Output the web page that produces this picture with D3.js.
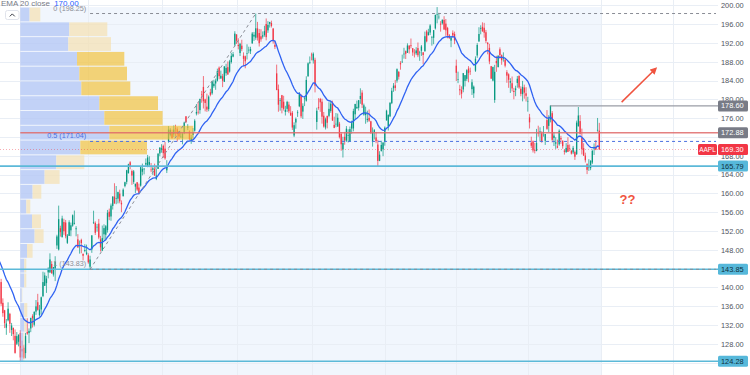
<!DOCTYPE html>
<html>
<head>
<meta charset="utf-8">
<script src="https://cdn.jsdelivr.net/npm/d3@7"></script>
<style>
html, body { margin: 0; padding: 0; background: #fff; overflow: hidden; }
svg { display: block; font-family: "Liberation Sans", Arial, sans-serif; }
</style>
</head>
<body>
<svg id="chart" width="750" height="375"></svg>
<script>
// AAPL daily candles, [open, high, low, close], one array per month
var dec22 = [[145.35,146.66,141.16,143.21],[141.11,141.80,136.03,136.50],[136.69,137.65,133.73,134.51],[135.11,135.20,131.32,132.37],[131.39,133.25,129.89,132.30],[132.98,136.81,132.75,135.45],[134.35,134.56,130.30,132.23],[130.92,132.42,129.64,131.86],[131.38,131.41,128.72,130.03],[129.67,131.03,125.87,126.04],[127.99,130.48,127.73,129.61],[128.41,129.95,127.43,129.93]];
var jan23 = [[130.28,130.90,124.17,125.07],[126.89,128.66,125.08,126.36],[127.13,127.77,124.76,125.02],[126.01,130.29,124.89,129.62],[130.47,133.41,129.89,130.15],[130.26,131.26,128.12,130.73],[131.25,133.51,130.46,133.49],[133.88,134.26,131.44,133.41],[132.03,134.92,131.66,134.76],[134.83,137.29,134.13,135.94],[136.82,138.61,135.03,135.21],[134.08,136.25,133.77,135.27],[135.28,138.02,134.22,137.87],[138.12,143.32,137.90,141.11],[140.31,143.16,140.30,142.53],[140.89,142.43,138.81,141.86],[143.17,144.25,141.90,143.96],[143.16,147.23,143.08,145.93],[144.96,145.55,142.85,143.00],[142.70,144.34,142.28,144.29]];
var feb23 = [[143.97,146.61,141.32,145.43],[148.90,151.18,148.17,150.82],[148.03,157.38,147.83,154.50],[152.57,153.10,150.78,151.73],[150.64,155.23,150.64,154.65],[153.88,154.58,151.17,151.92],[153.78,154.33,150.42,150.87],[149.46,151.34,149.22,151.01],[150.95,154.26,150.92,153.85],[152.12,153.77,150.86,153.20],[153.11,155.50,152.88,155.33],[153.51,156.33,153.35,153.71],[152.35,153.00,150.85,152.55],[150.20,151.30,148.41,148.48],[148.87,149.95,147.16,148.91],[150.09,150.34,147.24,149.40],[147.11,147.19,145.72,146.71],[147.71,149.17,147.45,147.92],[147.05,149.08,146.83,147.41]];
var mar23 = [[146.83,147.23,145.01,145.31],[144.38,146.71,143.90,145.91],[148.04,151.11,147.33,151.03],[153.79,156.30,153.46,153.83],[153.70,154.03,151.13,151.60],[152.81,153.47,151.83,152.87],[153.56,154.54,150.23,150.59],[150.21,150.94,147.61,148.50],[147.81,153.14,147.70,150.47],[151.28,153.40,150.10,152.59],[151.19,153.25,149.92,152.99],[152.16,156.46,151.64,155.85],[156.08,156.74,154.28,155.00],[155.07,157.82,154.15,157.40],[157.32,159.40,156.54,159.28],[159.30,162.14,157.81,157.83],[158.83,161.55,157.68,158.93],[158.86,160.34,157.85,160.25],[159.94,160.77,157.87,158.28],[157.97,158.49,155.98,157.65],[159.37,161.05,159.35,160.77],[161.53,162.47,161.27,162.36],[162.44,165.00,161.91,164.90]];
var apr23 = [[164.27,166.29,164.22,166.17],[166.60,166.84,165.11,165.63],[164.74,165.05,161.80,163.76],[162.43,164.96,162.00,164.66],[161.42,162.03,160.08,162.03],[162.35,162.36,160.51,160.80],[161.22,162.06,159.78,160.10],[161.63,165.80,161.42,165.56],[164.59,166.32,163.82,165.21],[165.09,165.39,164.03,165.23],[166.10,167.41,165.65,166.47],[165.80,168.16,165.54,167.63],[166.09,167.87,165.56,166.65],[165.05,166.45,164.49,165.02],[165.00,165.60,163.89,165.33],[165.19,166.31,163.73,163.77],[163.06,165.28,162.80,163.76],[165.19,168.56,165.19,168.41],[168.49,169.85,167.88,169.68]];
var may23 = [[169.28,170.45,168.64,169.59],[170.09,170.35,167.54,168.54],[169.50,170.92,167.16,167.45],[164.89,167.04,164.31,165.79],[170.98,174.30,170.76,173.57],[172.48,173.85,172.11,173.50],[173.05,173.54,171.60,171.77],[172.55,174.43,171.96,173.56],[173.85,174.59,172.17,173.75],[173.62,174.06,171.00,172.57],[173.16,173.21,171.47,172.07],[171.99,173.14,171.80,172.07],[171.71,172.93,170.42,172.69],[173.00,175.24,172.58,175.05],[176.39,176.39,174.94,175.16],[173.98,174.71,173.45,174.20],[173.13,173.38,171.28,171.56],[171.09,172.42,170.52,171.84],[172.41,173.90,171.69,172.99],[173.32,175.77,173.11,175.43],[176.96,178.99,176.57,177.30],[177.33,179.35,176.76,177.25]];
var jun23 = [[177.70,180.12,176.93,180.09],[181.03,181.78,179.26,180.95],[182.63,184.95,178.04,179.58],[179.97,180.12,177.43,179.21],[178.44,181.21,177.32,177.82],[177.90,180.84,177.46,180.57],[181.50,182.23,180.63,180.96],[181.27,183.89,180.97,183.79],[182.80,184.15,182.44,183.31],[183.37,184.39,182.02,183.95],[183.96,186.52,183.78,186.01],[186.73,186.99,184.27,184.92],[184.41,186.10,184.41,185.01],[184.90,185.41,182.59,183.96],[183.74,187.05,183.67,187.00],[185.55,187.56,185.01,186.68],[186.83,188.05,185.23,185.27],[185.89,188.39,185.67,188.06],[187.93,189.90,187.60,189.25],[189.08,190.07,188.94,189.59],[191.63,194.48,191.26,193.97]];
var jul23 = [[193.78,193.88,191.76,192.46],[191.57,192.98,190.62,191.33],[189.84,192.02,189.20,191.81],[191.41,192.67,190.24,190.68],[189.26,189.99,187.04,188.61],[189.16,189.30,186.60,188.08],[189.68,191.70,188.47,189.77],[190.50,191.19,189.78,190.54],[190.23,191.18,189.63,190.69],[191.90,194.32,191.81,193.99],[193.35,194.33,192.42,193.73],[193.10,198.23,192.65,195.10],[195.09,196.47,192.50,193.13],[194.10,194.97,191.23,191.94],[193.41,194.91,192.25,192.75],[193.33,194.44,192.92,193.62],[193.67,195.64,193.32,194.50],[196.02,197.20,192.55,193.22],[194.67,196.63,194.14,195.83],[196.06,196.49,195.26,196.45]];
var aug23 = [[196.24,196.73,195.28,195.61],[195.04,195.18,191.85,192.58],[191.57,192.37,190.69,191.17],[185.52,187.38,181.92,181.99],[182.13,183.13,177.35,178.85],[179.69,180.27,177.58,179.80],[180.87,180.93,177.01,178.19],[179.48,180.75,177.60,177.97],[177.32,178.62,176.55,177.79],[177.97,179.69,177.31,179.46],[178.88,179.48,177.05,177.45],[177.13,178.54,176.50,176.57],[177.14,177.51,173.48,174.00],[172.30,175.10,171.96,174.49],[175.07,176.13,173.74,175.84],[177.06,177.68,176.25,177.23],[178.52,181.55,178.33,181.12],[180.67,181.10,176.01,176.38],[177.38,179.15,175.82,178.61],[180.09,180.59,178.55,180.19],[179.70,184.90,179.50,184.12],[184.94,187.85,184.74,187.65],[187.84,189.12,187.48,187.87]];
var sep23 = [[189.49,189.92,188.28,189.46],[188.28,189.98,187.61,189.70],[188.40,188.85,181.47,182.91],[175.18,178.21,173.54,177.56],[178.35,180.24,177.79,178.18],[180.07,180.30,177.34,179.36],[179.49,180.13,174.82,176.30],[176.51,177.30,173.98,174.21],[174.00,176.10,173.58,175.74],[176.48,176.50,173.82,175.01],[176.48,179.38,176.17,177.97],[177.52,179.63,177.13,179.07],[179.26,179.70,175.40,175.49],[174.55,176.30,173.86,173.93],[174.67,177.08,174.05,174.79],[174.20,176.97,174.15,176.08],[174.82,175.20,171.66,171.96],[172.62,173.04,169.05,170.43],[169.34,172.03,167.62,170.69],[172.02,173.07,170.34,171.21]];
var oct23 = [[171.22,174.30,170.93,173.75],[172.26,173.63,170.82,172.40],[171.09,174.21,170.97,173.66],[173.79,175.45,172.68,174.91],[173.80,177.99,173.18,177.49],[176.81,179.05,175.80,178.99],[178.10,179.72,177.95,178.39],[178.20,179.85,177.60,179.80],[180.07,182.34,179.04,180.71],[181.42,181.93,178.14,178.85],[176.75,179.08,176.51,178.72],[176.65,178.42,174.80,177.15],[175.58,177.58,175.11,175.84],[176.04,177.84,175.19,175.46],[175.31,175.42,172.64,172.88],[170.91,174.01,169.93,173.00],[173.05,173.67,171.45,173.44],[171.88,173.06,170.65,171.10],[170.37,171.38,165.67,166.89],[166.91,168.96,166.83,168.22],[169.02,171.17,168.87,170.29],[169.35,170.90,167.90,170.77]];
var nov23 = [[171.00,174.23,170.12,173.97],[175.52,177.78,175.46,177.57],[174.24,176.82,173.35,176.65],[176.38,179.43,176.21,179.23],[179.18,182.44,178.97,181.82],[182.35,183.45,181.59,182.89],[182.96,184.12,181.81,182.41],[183.97,186.57,183.53,186.40],[185.82,186.03,184.21,184.80],[187.70,188.11,186.30,187.44],[187.85,189.50,187.78,188.01],[189.57,190.96,188.65,189.71],[190.25,190.38,188.57,189.69],[189.89,191.91,189.88,191.45],[191.41,191.52,189.74,190.64],[191.49,192.93,190.83,191.31],[190.87,190.90,189.25,189.97],[189.92,190.67,188.90,189.79],[189.78,191.08,189.40,190.40],[190.90,192.09,188.97,189.37],[189.84,190.32,188.19,189.95]];
var dec23 = [[190.33,191.56,189.23,191.24],[189.98,190.05,187.45,189.43],[190.21,194.40,190.18,193.42],[194.45,194.76,192.11,192.32],[193.63,195.00,193.59,194.27],[194.20,195.99,193.67,195.71],[193.11,193.49,191.42,193.18],[193.08,194.72,191.72,194.71],[195.09,198.00,194.85,197.96],[198.02,199.62,196.16,198.11],[197.53,198.40,197.00,197.57],[196.09,196.63,194.39,195.89],[196.16,196.95,195.89,196.94],[196.90,197.68,194.83,194.83],[196.10,197.08,193.50,194.68],[195.18,195.41,192.97,193.60],[193.61,193.89,192.83,193.05],[192.49,193.50,191.09,193.15],[194.14,194.66,193.17,193.58],[193.90,194.40,191.73,192.53]];
var jan24 = [[187.15,188.44,183.89,185.64],[184.22,185.88,183.43,184.25],[182.15,183.09,180.88,181.91],[181.99,182.76,180.17,181.18],[182.09,185.60,181.50,185.56],[183.92,185.15,182.73,185.14],[184.35,186.40,183.92,186.19],[186.54,187.05,183.62,185.59],[186.06,186.74,185.19,185.92],[182.16,184.26,180.93,183.63],[181.27,182.93,180.30,182.68],[186.09,189.14,185.83,188.63],[189.33,191.95,188.82,191.56],[192.30,195.33,192.26,193.89],[195.02,195.75,193.83,195.18],[195.42,196.38,194.34,194.50],[195.22,196.27,193.11,194.17],[194.27,194.76,191.94,192.42],[192.01,192.20,189.58,191.73],[190.94,191.80,187.47,188.04],[187.04,187.10,184.35,184.40]];
var feb24 = [[183.99,186.95,183.82,186.86],[179.86,187.33,179.25,185.85],[188.15,189.25,185.84,187.68],[186.86,189.31,186.77,189.30],[190.64,191.05,188.61,189.41],[189.39,189.54,187.35,188.32],[188.65,189.99,188.00,188.85],[188.42,188.67,186.79,187.15],[185.77,186.21,183.51,185.04],[185.32,185.53,182.44,184.15],[183.55,184.49,181.35,183.86],[183.42,184.85,181.67,182.31],[181.79,182.43,180.00,181.56],[181.94,182.89,180.66,182.32],[183.48,184.96,182.46,184.37],[185.01,185.04,182.23,182.52],[182.24,182.76,180.65,181.16],[181.10,183.92,179.56,182.63],[182.51,183.12,180.13,181.42],[181.27,182.57,179.53,180.75]];
var mar24 = [[179.55,180.53,177.38,179.66],[176.15,176.90,173.79,175.10],[170.76,172.04,169.62,170.12],[171.06,171.24,168.68,169.12],[169.15,170.73,168.49,169.00],[169.00,173.70,168.94,170.73],[172.94,174.38,172.05,172.75],[173.15,174.03,171.01,173.23],[172.77,173.19,170.76,171.13],[172.91,174.31,172.05,173.00],[171.17,172.62,170.29,172.62],[175.57,177.71,173.52,173.72],[174.34,176.61,173.03,176.08],[175.72,178.67,175.09,178.67],[177.05,177.49,170.84,171.37],[171.76,173.05,170.06,172.28],[170.57,171.94,169.45,170.85],[170.00,171.42,169.58,169.71],[170.41,173.60,170.11,173.31],[171.75,172.23,170.51,171.48]];
var apr24 = [[171.19,171.25,169.48,170.03],[169.08,169.34,168.23,168.84],[168.79,170.68,168.58,169.65],[170.29,171.92,168.82,168.82],[169.59,170.39,168.95,169.58],[169.03,169.20,168.24,168.45],[168.70,170.08,168.35,169.67],[168.80,169.09,167.11,167.78],[168.34,175.46,168.16,175.04],[174.26,178.36,174.21,176.55],[175.36,176.63,172.50,172.69],[171.75,173.76,168.27,169.38],[169.61,170.65,168.00,168.00],[168.03,168.64,166.55,167.04],[166.21,166.40,164.08,165.00],[165.52,167.26,164.77,165.84],[165.35,167.05,164.92,166.90],[166.54,169.30,166.21,169.02],[169.53,170.61,168.15,169.89],[169.88,171.34,169.18,169.30],[173.37,176.03,173.10,173.50],[173.33,174.99,169.30,169.30]];

var months = [dec22, jan23, feb23, mar23, apr23, may23, jun23, jul23, aug23, sep23, oct23, nov23, dec23, jan24, feb24, mar24, apr24];
var futureMonthDays = [22, 19, 22];   // May, Jun, Jul 2024 trading days
var firstDayIndex = -12;              // Dec 14 2022, counted from Jan 3 2023

var priceTicks = [200, 196, 192, 188, 184, 180, 176, 172, 168, 164, 160, 156, 152, 148, 144, 140, 136, 132, 128, 124];

var emaLength = 20;
var emaSeed = 145.8;      // EMA value before the first visible bar
var emaLabel = "170.00";

// volume profile rows from the top (199.62) to the bottom (124.17)
var vpHigh = 199.62, vpLow = 124.17;
var vpUp   = [9.3, 49, 48, 56.7, 59, 61, 79, 84, 89, 60, 36, 24.3, 12.3, 6, 11.7, 14.3, 6.7, 4, 4, 1.5, 4, 4, 3, 3];
var vpDown = [10.7, 38, 42.7, 47.3, 47.7, 49, 58.7, 58.3, 84, 66.7, 28, 15, 8.7, 4, 9, 9, 5.6, 2, 2, 0.5, 3, 2, 1, 1];
var valueArea = [168.2, 190.2];

// fib retracement drawn from the March low to the July high
var fibFrom = { day: 40, price: 143.83 };
var fibTo = { day: 135, price: 198.25 };
var fibLevels = [
  { label: "0 (198.25)", price: 198.25, color: "#8a8d96" },
  { label: "0.5 (171.04)", price: 171.04, color: "#4a6fe0" },
  { label: "1 (143.83)", price: 143.83, color: "#8a8d96" }
];

var supportLevels = [165.79, 143.85, 124.28];
var redLevel = 172.88;
var resistLevel = { day: 304, price: 178.60 };
var lastPrice = 169.30;

var arrow = { from: [344.8, 179.4], to: [364, 186.4] };
var question = { day: 348.2, price: 158.7, text: "??" };

// ---------------------------------------------------------------
var W = 750, H = 375, plotRight = 718;
var candles = [].concat.apply([], months);

var x = d3.scaleLinear().domain([0, 332]).range([20.3, 599.3]);
var y = d3.scaleLinear().domain([124, 200]).range([362.5, 5.3]);

var svg = d3.select("#chart");
var defs = svg.append("defs");
defs.append("clipPath").attr("id", "plot").append("rect")
    .attr("x", 0).attr("y", 0).attr("width", plotRight).attr("height", H);
defs.append("marker").attr("id", "head")
    .attr("viewBox", "0 0 10 10").attr("refX", 6).attr("refY", 5)
    .attr("markerWidth", 7).attr("markerHeight", 7)
    .attr("markerUnits", "userSpaceOnUse").attr("orient", "auto")
  .append("path").attr("d", "M0,0 L10,5 L0,10 z").attr("fill", "#f0533f");

svg.append("rect").attr("width", W).attr("height", H).attr("fill", "#fff");

var plot = svg.append("g").attr("clip-path", "url(#plot)");

// month starts -> vertical grid every two months
var monthStarts = [];
var d = firstDayIndex;
months.forEach(function (m) { monthStarts.push(d); d += m.length; });
futureMonthDays.forEach(function (n) { monthStarts.push(d); d += n; });
var gridDays = monthStarts.slice(1).filter(function (v, i) { return i % 2 === 0; });

// shaded range behind the profile
plot.append("rect")
    .attr("x", x(0)).attr("y", y(vpHigh))
    .attr("width", x(333) - x(0)).attr("height", H - y(vpHigh))
    .attr("fill", "#f1f6fd");

plot.append("g").selectAll("line").data(priceTicks).join("line")
    .attr("x1", 0).attr("x2", plotRight)
    .attr("y1", function (v) { return Math.round(y(v)) + 0.5; })
    .attr("y2", function (v) { return Math.round(y(v)) + 0.5; })
    .attr("stroke", "#e9eef5").attr("stroke-width", 1);
plot.append("g").selectAll("line").data(gridDays).join("line")
    .attr("x1", function (v) { return Math.round(x(v)) + 0.5; })
    .attr("x2", function (v) { return Math.round(x(v)) + 0.5; })
    .attr("y1", 0).attr("y2", H)
    .attr("stroke", "#e9eef5").attr("stroke-width", 1);

// candles
var up = "#089981", down = "#f23645";
var cg = plot.append("g");
cg.selectAll("line").data(candles).join("line")
    .attr("x1", function (c, i) { return x(firstDayIndex + i); })
    .attr("x2", function (c, i) { return x(firstDayIndex + i); })
    .attr("y1", function (c) { return y(c[1]); })
    .attr("y2", function (c) { return y(c[2]); })
    .attr("stroke", function (c) { return c[3] >= c[0] ? up : down; })
    .attr("stroke-width", 0.7);
cg.selectAll("rect").data(candles).join("rect")
    .attr("x", function (c, i) { return x(firstDayIndex + i) - 0.65; })
    .attr("width", 1.3)
    .attr("y", function (c) { return y(Math.max(c[0], c[3])); })
    .attr("height", function (c) { return Math.max(0.6, Math.abs(y(c[0]) - y(c[3]))); })
    .attr("fill", function (c) { return c[3] >= c[0] ? up : down; });

// volume profile
var rowH = (y(vpLow) - y(vpHigh)) / vpUp.length;
var rowPrice = (vpHigh - vpLow) / vpUp.length;
var vol = d3.scaleLinear()
    .domain([0, d3.max(vpUp, function (v, i) { return v + vpDown[i]; })])
    .range([0, 173]);
var vpg = plot.append("g").attr("opacity", 0.65);
vpUp.forEach(function (v, i) {
  var mid = vpHigh - (i + 0.5) * rowPrice;
  var inVA = mid >= valueArea[0] && mid <= valueArea[1];
  var top = y(vpHigh) + i * rowH;
  vpg.append("rect").attr("x", x(0)).attr("y", top + 0.5)
     .attr("width", vol(v)).attr("height", rowH - 1).attr("fill", "#aabff5");
  vpg.append("rect").attr("x", x(0) + vol(v)).attr("y", top + 0.5)
     .attr("width", vol(vpDown[i])).attr("height", rowH - 1)
     .attr("fill", inVA ? "#f3bf30" : "#f6e0ac");
});

// EMA 20
var ema = [];
var prev = emaSeed;
candles.forEach(function (c) { prev = prev + (c[3] - prev) * 2 / (emaLength + 1); ema.push(prev); });
plot.append("path").datum(ema)
    .attr("d", d3.line().x(function (v, i) { return x(firstDayIndex + i); }).y(function (v) { return y(v); }))
    .attr("fill", "none").attr("stroke", "#2f62f2").attr("stroke-width", 1.3);

// horizontal levels
supportLevels.forEach(function (p) {
  plot.append("line").attr("x1", 0).attr("x2", plotRight)
      .attr("y1", y(p)).attr("y2", y(p))
      .attr("stroke", "#5cb9d8").attr("stroke-width", 1.6);
});
plot.append("line").attr("x1", x(0)).attr("x2", plotRight)
    .attr("y1", y(redLevel)).attr("y2", y(redLevel))
    .attr("stroke", "#e06b6b").attr("stroke-width", 1.4).attr("opacity", 0.85);
plot.append("line").attr("x1", x(resistLevel.day)).attr("x2", plotRight)
    .attr("y1", y(resistLevel.price)).attr("y2", y(resistLevel.price))
    .attr("stroke", "#9a9da6").attr("stroke-width", 1.3);
plot.append("line").attr("x1", 0).attr("x2", 698)
    .attr("y1", y(lastPrice)).attr("y2", y(lastPrice))
    .attr("stroke", "#f23645").attr("stroke-width", 0.8)
    .attr("stroke-dasharray", "1,2").attr("opacity", 0.55);

// fib retracement
plot.append("line")
    .attr("x1", x(fibFrom.day)).attr("y1", y(fibFrom.price))
    .attr("x2", x(fibTo.day)).attr("y2", y(fibTo.price))
    .attr("stroke", "#8a8d96").attr("stroke-width", 1).attr("stroke-dasharray", "3,3");
fibLevels.forEach(function (f) {
  plot.append("line").attr("x1", x(fibFrom.day)).attr("x2", 716)
      .attr("y1", y(f.price)).attr("y2", y(f.price))
      .attr("stroke", f.color).attr("stroke-width", 1).attr("stroke-dasharray", "3,3");
  plot.append("text").attr("x", x(fibFrom.day) - 4).attr("y", y(f.price) - 3)
      .attr("text-anchor", "end").attr("font-size", 7.2).attr("fill", f.color)
      .text(f.label);
});

// annotations
svg.append("line")
    .attr("x1", x(arrow.from[0])).attr("y1", y(arrow.from[1]))
    .attr("x2", x(arrow.to[0])).attr("y2", y(arrow.to[1]))
    .attr("stroke", "#f0533f").attr("stroke-width", 1.5).attr("marker-end", "url(#head)");
svg.append("text").attr("x", x(question.day)).attr("y", y(question.price))
    .attr("text-anchor", "middle").attr("dominant-baseline", "central")
    .attr("font-size", 13).attr("font-weight", "bold").attr("fill", "#f0533f")
    .text(question.text);

// price labels on the axis
var priceLabels = [
  { price: resistLevel.price, bg: "#787b86", fg: "#fff" },
  { price: redLevel, bg: "#787b86", fg: "#fff" },
  { price: lastPrice, bg: "#f23645", fg: "#fff" },
  { price: supportLevels[0], bg: "#56b8da", fg: "#10303c" },
  { price: supportLevels[1], bg: "#56b8da", fg: "#10303c" },
  { price: supportLevels[2], bg: "#56b8da", fg: "#10303c" }
];

// ticks hidden behind a label box are dropped, as the platform does
var shownTicks = priceTicks.filter(function (t) {
  return priceLabels.every(function (l) { return Math.abs(y(t) - y(l.price)) > 5.5; });
});
var axis = svg.append("g").attr("transform", "translate(" + plotRight + ",0)")
    .call(d3.axisRight(y).tickValues(shownTicks).tickSize(0).tickPadding(3)
      .tickFormat(d3.format(".2f")));
axis.select(".domain").remove();
axis.selectAll("text").attr("font-size", 7.4).attr("fill", "#50535e")
    .attr("font-family", "'Liberation Sans', Arial, sans-serif");

priceLabels.forEach(function (l) {
  var g = svg.append("g").attr("transform", "translate(" + plotRight + "," + y(l.price) + ")");
  g.append("rect").attr("x", 0).attr("y", -5.5).attr("width", 30).attr("height", 11)
      .attr("rx", 1.5).attr("fill", l.bg);
  g.append("text").attr("x", 3).attr("y", 0).attr("dominant-baseline", "central")
      .attr("font-size", 7.4).attr("fill", l.fg).text(d3.format(".2f")(l.price));
});
var tag = svg.append("g").attr("transform", "translate(698," + y(lastPrice) + ")");
tag.append("rect").attr("x", 0).attr("y", -5.5).attr("width", 19).attr("height", 11)
    .attr("rx", 1.5).attr("fill", "#f23645");
tag.append("text").attr("x", 9.5).attr("y", 0).attr("text-anchor", "middle")
    .attr("dominant-baseline", "central").attr("font-size", 6.5).attr("fill", "#fff").text("AAPL");

// legend
var legend = svg.append("text").attr("x", 1).attr("y", 5.8).attr("font-size", 8);
legend.append("tspan").attr("fill", "#787b86").text("EMA 20 close ");
legend.append("tspan").attr("fill", "#2962ff").attr("dx", 2).text(emaLabel);
svg.append("rect").attr("x", 5.5).attr("y", 10.5).attr("width", 13.5).attr("height", 9)
    .attr("rx", 2).attr("fill", "#fff").attr("stroke", "#e0e3eb");
svg.append("path").attr("d", "M9.8,16.4 L12.3,13.9 L14.8,16.4")
    .attr("fill", "none").attr("stroke", "#3a3d46").attr("stroke-width", 1);
</script>
</body>
</html>
